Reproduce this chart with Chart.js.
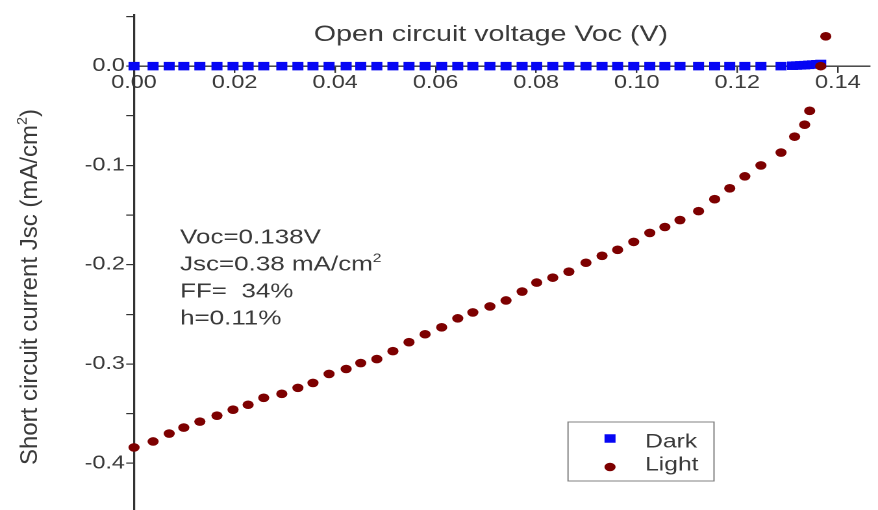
<!DOCTYPE html>
<html><head><meta charset="utf-8">
<script src="https://cdn.jsdelivr.net/npm/chart.js@4"></script>
<style>
html,body{margin:0;padding:0;background:#fff;overflow:hidden;width:878px;height:510px;}
#wrap{position:absolute;left:0;top:0;width:676px;height:516px;transform:scaleX(1.298817);transform-origin:0 0;}
</style></head><body>
<div id="wrap"><canvas id="c"></canvas></div>
<script>
const SX = 878 / 676;

const lightV = [0.0000,0.0038,0.0070,0.0099,0.0131,0.0165,0.0197,0.0227,0.0258,0.0294,0.0326,0.0356,0.0388,0.0422,0.0451,0.0483,0.0515,0.0547,0.0579,0.0612,0.0644,0.0674,0.0708,0.0740,0.0772,0.0801,0.0833,0.0865,0.0899,0.0931,0.0962,0.0994,0.1026,0.1056,0.1086,0.1123,0.1155,0.1185,0.1215,0.1247,0.1287,0.1314,0.1334,0.1344,0.1366,0.1376];
const lightJ = [-0.384,-0.378,-0.370,-0.364,-0.358,-0.352,-0.346,-0.341,-0.334,-0.330,-0.324,-0.319,-0.310,-0.305,-0.299,-0.295,-0.287,-0.278,-0.270,-0.263,-0.254,-0.248,-0.242,-0.236,-0.227,-0.218,-0.213,-0.207,-0.198,-0.191,-0.185,-0.177,-0.168,-0.162,-0.155,-0.146,-0.134,-0.123,-0.111,-0.100,-0.087,-0.071,-0.059,-0.045,0.000,0.030];

const darkV = [0.0000,0.0038,0.0070,0.0099,0.0131,0.0165,0.0197,0.0227,0.0258,0.0294,0.0326,0.0356,0.0388,0.0422,0.0451,0.0483,0.0515,0.0547,0.0579,0.0612,0.0644,0.0674,0.0708,0.0740,0.0772,0.0801,0.0833,0.0865,0.0899,0.0931,0.0962,0.0994,0.1026,0.1056,0.1086,0.1123,0.1155,0.1185,0.1215,0.1247,0.1287,0.1310,0.1318,0.1326,0.1334,0.1342,0.1350,0.1358,0.1366];
const darkJ = [0,0,0,0,0,0,0,0,0,0,0,0,0,0,0,0,0,0,0,0,0,0,0,0,0,0,0,0,0,0,0,0,0,0,0,0,0,0,0,0,0,0.0004,0.0006,0.0008,0.0010,0.0013,0.0016,0.0019,0.0022];

const xTicks = [0,0.02,0.04,0.06,0.08,0.10,0.12,0.14];
const xTickLabels = ['0.00','0.02','0.04','0.06','0.08','0.10','0.12','0.14'];
const yTicks = [0.05,0,-0.05,-0.1,-0.15,-0.2,-0.25,-0.3,-0.35,-0.4,-0.45];
const yTickLabels = ['','0.0','','-0.1','','-0.2','','-0.3','','-0.4',''];

const xTitle = 'Open circuit voltage Voc (V)';
const yTitleParts = [['Short circuit current Jsc (mA/cm',false],['2',true],[')',false]];
const notes = [
  [['Voc=0.138V',false]],
  [['Jsc=0.38 mA/cm',false],['2',true]],
  [['FF=  34%',false]],
  [['h=0.11%',false]]
];

const FONT = '"Liberation Sans", Arial, sans-serif';
const TXT = '#3a3a3a';

function partsWidth(ctx, parts, size){
  let w = 0;
  for (const [t,sup] of parts){
    ctx.font = (sup ? size*0.6 : size) + 'px ' + FONT;
    w += ctx.measureText(t).width;
  }
  return w;
}
function drawParts(ctx, parts, x, y, size){
  for (const [t,sup] of parts){
    ctx.font = (sup ? size*0.6 : size) + 'px ' + FONT;
    ctx.fillText(t, x, sup ? y - size*0.42 : y);
    x += ctx.measureText(t).width;
  }
}

const textPlugin = {
  id: 'texts',
  afterDraw(chart){
    const ctx = chart.ctx;
    ctx.save();
    ctx.fillStyle = TXT;
    ctx.textBaseline = 'alphabetic';
    ctx.textAlign = 'left';
    ctx.font = '22px ' + FONT;
    const xw = ctx.measureText(xTitle).width;
    ctx.fillText(xTitle, 378 - xw/2, 41);
    notes.forEach((ln, i) => drawParts(ctx, ln, 138.6, 243.5 + i*27, 20));
    ctx.save();
    ctx.translate(37/SX, 287);
    ctx.scale(1/SX, 1);
    ctx.rotate(-Math.PI/2);
    const yw = partsWidth(ctx, yTitleParts, 24);
    drawParts(ctx, yTitleParts, -yw/2, 0, 24);
    ctx.restore();
    const bx = 568/SX, by = 422, bw = (714-568)/SX, bh = 59;
    ctx.strokeStyle = '#808080';
    ctx.lineWidth = 1;
    ctx.strokeRect(bx, by, bw, bh);
    const ds = chart.data.datasets;
    const rows = [[ds[1], 438.5, 447.5],[ds[0], 467, 470.5]];
    ctx.font = '19px ' + FONT;
    for (const [d, my, ty] of rows){
      ctx.fillStyle = d.backgroundColor;
      Chart.helpers.drawPoint(ctx, {pointStyle: d.pointStyle, rotation: 0, radius: d.pointRadius, borderWidth: 0}, 610/SX, my);
      ctx.fillStyle = TXT;
      ctx.fillText(d.label, 645/SX, ty);
    }
    ctx.restore();
  }
};

new Chart(document.getElementById('c'), {
  type: 'scatter',
  data: {
    datasets: [
      {label: 'Light', data: lightV.map((v,i)=>({x:v, y:lightJ[i]})), pointStyle:'circle', pointRadius:4.3, backgroundColor:'#7d0000', borderWidth:0, order:0, clip:false},
      {label: 'Dark', data: darkV.map((v,i)=>({x:v, y:darkJ[i]})), pointStyle:'rect', pointRadius:6, backgroundColor:'#0606f4', borderWidth:0, order:1, clip:false}
    ]
  },
  options: {
    responsive: true,
    maintainAspectRatio: false,
    animation: false,
    devicePixelRatio: 2,
    layout: {padding: {top: 15, right: 676 - 870/SX, bottom: 0, left: 0}},
    plugins: {legend: {display:false}, tooltip: {enabled:false}, title: {display:false}},
    scales: {
      x: {
        type: 'linear', min: 0, max: 0.1464,
        position: {y: 0},
        afterFit(s){ s.height = 0; s.paddingLeft = 0; s.paddingRight = 0; s.paddingTop = 0; s.paddingBottom = 0; },
        afterBuildTicks(s){ s.ticks = xTicks.map(v=>({value:v})); },
        ticks: {callback:(v,i)=>xTickLabels[i], font:{family:FONT, size:18}, color:TXT, padding:0, maxRotation:0, autoSkip:false},
        grid: {drawOnChartArea:false, drawTicks:true, tickLength:6, color:'#333', lineWidth:1.2},
        border: {color:'#333', width:1.4}
      },
      y: {
        type: 'linear', min: -0.447, max: 0.0515,
        position: 'left',
        afterFit(s){ s.width = 134/SX; s.paddingTop = 0; s.paddingBottom = 0; s.paddingLeft = 0; s.paddingRight = 0; },
        afterBuildTicks(s){ s.ticks = yTicks.map(v=>({value:v})); },
        ticks: {callback:(v,i)=>yTickLabels[i], font:{family:FONT, size:18}, color:TXT, padding:1, autoSkip:false},
        grid: {drawOnChartArea:false, drawTicks:true, tickLength:6, color:'#333', lineWidth:1.2},
        border: {color:'#333', width:1.6}
      }
    }
  },
  plugins: [textPlugin]
});
</script>
</body></html>
